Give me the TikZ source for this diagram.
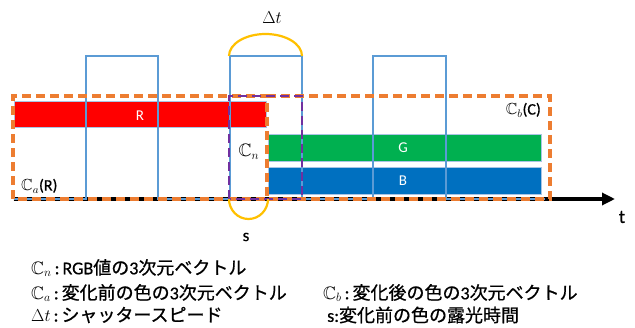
\documentclass[tikz,border=0pt]{standalone}
\usepackage{amssymb}
\usepackage{fontspec}
\setmainfont{Carlito}
\newfontfamily\jp[FakeBold=0.8]{Noto Sans CJK JP}
\newfontfamily\lat[FakeBold=0.6]{Carlito}
\usetikzlibrary{arrows.meta}
\definecolor{pulse}{HTML}{5B9BD5}
\definecolor{orng}{HTML}{ED7D31}
\definecolor{purp}{HTML}{7030A0}
\definecolor{yel}{HTML}{FFC000}
\definecolor{barR}{HTML}{FF0000}
\definecolor{barG}{HTML}{00B050}
\definecolor{barB}{HTML}{0070C0}
\definecolor{barline}{HTML}{A9C4E4}
\newcommand{\sep}{\hspace{3pt}{\lat :}\hspace{3pt}}
\begin{document}
\begin{tikzpicture}[x=1pt,y=1pt,
  bar/.style={draw=barline,line width=0.8pt},
  wave/.style={draw=pulse,line width=1.8pt},
  odash/.style={draw=orng,line width=3.2pt,dash pattern=on 9pt off 5pt},
  pdash/.style={draw=purp,line width=2.8pt,dash pattern=on 9pt off 5pt},
  yarc/.style={draw=yel,line width=2.2pt},
  axisline/.style={draw=black,line width=3.2pt,-{Triangle[length=13pt,width=12pt]}},
  lab/.style={inner sep=0pt,font=\fontsize{16}{19}\selectfont},
  barlab/.style={inner sep=0pt,text=white,font=\fontsize{15}{18}\selectfont},
  legend/.style={inner sep=0pt,anchor=west,font=\fontsize{18}{21}\selectfont\jp}]
\useasboundingbox (0,0) rectangle (635,327);
% axis
\coordinate (a0) at (14,128);
\coordinate (a1) at (615,128);
\draw[axisline] (a0) -- (a1);
% bars
\fill[barR] (14,200) rectangle (266,226);
\draw[bar] (14,200) rectangle (266,226);
\fill[barG] (268,166) rectangle (541,193);
\draw[bar] (268,166) rectangle (541,193);
\fill[barB] (268,133) rectangle (541,160);
\draw[bar] (268,133) rectangle (541,160);
\node[barlab] (R) at (140,211) {R};
\node[barlab] (G) at (403,179) {G};
\node[barlab] (B) at (403,146) {B};
% shutter pulses
\draw[wave] (14,128) -- (86,128) -- (86,271) -- (158,271) -- (158,128) -- (230,128)
  -- (230,271) -- (302,271) -- (302,128) -- (373,128) -- (373,271) -- (446,271)
  -- (446,128) -- (545,128);
% dashed regions
\draw[odash] (13,128) rectangle (267,231);
\draw[odash] (267,231) -- (550,231) -- (550,128) -- (267,128);
\draw[pdash] (229,128) rectangle (302,231);
% yellow arcs
\draw[yarc] (229,271) arc[start angle=180,end angle=0,x radius=36.5,y radius=22];
\draw[yarc] (229,128) arc[start angle=180,end angle=360,x radius=19.5,y radius=20];
% labels
\node[lab] (dt) at (272,309) {$\Delta t$};
\node[lab,font=\fontsize{17}{20}\selectfont\lat] (s) at (246,90) {s};
\node[lab,font=\fontsize{19}{22}\selectfont\lat] (t) at (622,110) {t};
\node[lab,font=\fontsize{18}{21}\selectfont] (cn) at (249,175) {$\mathbb{C}_n$};
\node[lab,anchor=west] (ca) at (21,141) {$\mathbb{C}_a${\lat(R)}};
\node[lab,anchor=east] (cb) at (541,217) {$\mathbb{C}_b${\lat(C)}};
% legend
\node[legend] (l1) at (31,59) {$\mathbb{C}_n$\sep{\lat RGB}値の{\lat 3}次元ベクトル};
\node[legend] (l2) at (31,34) {$\mathbb{C}_a$\sep 変化前の色の{\lat 3}次元ベクトル};
\node[legend] (l3) at (323,34) {$\mathbb{C}_b$\sep 変化後の色の{\lat 3}次元ベクトル};
\node[legend] (l4) at (31,12) {$\Delta t$\sep シャッタースピード};
\node[legend] (l5) at (327,12) {{\lat s:}変化前の色の露光時間};
\end{tikzpicture}
\end{document}
